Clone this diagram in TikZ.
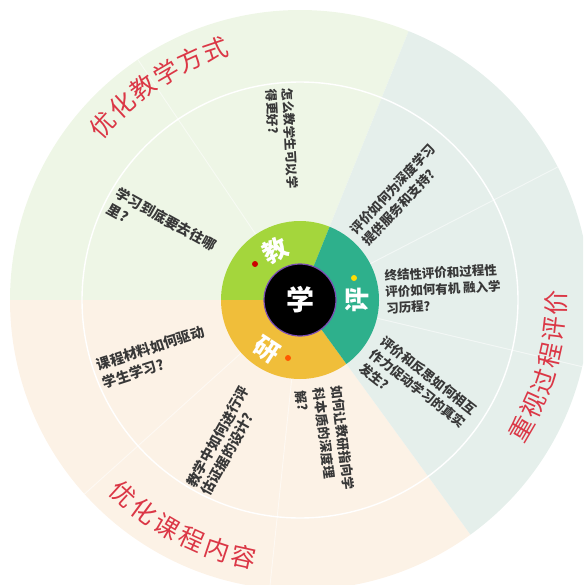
\documentclass[tikz,border=0pt]{standalone}
\usepackage{fontspec}
\newfontfamily\cjk{Noto Sans CJK SC}
\definecolor{secG}{HTML}{EEF6E6}
\definecolor{secB}{HTML}{E5EFEB}
\definecolor{secP}{HTML}{FCF2E6}
\definecolor{dG}{HTML}{A4D63C}
\definecolor{dT}{HTML}{2EB08C}
\definecolor{dY}{HTML}{F0BE3A}
\definecolor{ttl}{HTML}{DB3746}
\definecolor{qtx}{HTML}{383838}
\definecolor{rim}{HTML}{7B4DB5}
\begin{document}
\begin{tikzpicture}[x=1pt,y=1pt,
  qtext/.style n args={2}{font=\cjk\bfseries\fontsize{#1}{#2}\selectfont, text=qtx, align=left, inner sep=0pt},
  ttlchar/.style={font=\cjk\fontsize{25}{25}\selectfont, text=ttl, inner sep=0pt},
  donutchar/.style={font=\cjk\bfseries\fontsize{25}{25}\selectfont, text=white, inner sep=0pt},
  divider/.style={white, line width=0.9pt, opacity=0.55},
  dot/.style={circle, inner sep=0pt, minimum size=6pt}]
\begin{scope}[shift={(300,-300)}]
\useasboundingbox (-300,300) rectangle (283,-285);
\clip (-300,300) rectangle (283,-285);
% outer sectors
\fill[secG] (0,0) -- (68:290) arc[start angle=68,end angle=180,radius=290] -- cycle;
\fill[secP] (0,0) -- (180:290) arc[start angle=180,end angle=306,radius=290] -- cycle;
\fill[secB] (0,0) -- (306:290) arc[start angle=306,end angle=428,radius=290] -- cycle;
% white ring and dividers
\draw[white, line width=1.4pt] (0,0) circle[radius=218];
\foreach \a in {124,222,264,-13.3,27.3} \draw[divider] (\a:79) -- (\a:290);
% donut
\fill[dG] (0,0) -- (68:79) arc[start angle=68,end angle=180,radius=79] -- cycle;
\fill[dY] (0,0) -- (180:79) arc[start angle=180,end angle=306,radius=79] -- cycle;
\fill[dT] (0,0) -- (306:79) arc[start angle=306,end angle=428,radius=79] -- cycle;
\node[circle, fill=black, draw=rim, line width=1.2pt, minimum size=72pt, inner sep=0pt] (hub) at (0,0) {};
\node[font=\cjk\bfseries\fontsize{28}{28}\selectfont, text=white] (xue) at (0,0) {学};
\node[donutchar, rotate=27] (jiao) at (-25,50) {教};
\node[donutchar, rotate=90] (ping) at (57,0) {评};
\node[donutchar, rotate=-33] (yan) at (-33,-50) {研};
\node[dot, fill=red!80!black] (d1) at (-45,36) {};
\node[dot, fill=yellow!80!orange] (d2) at (54,22) {};
\node[dot, fill=orange!70!red] (d3) at (-12,-58) {};
% questions
\node[qtext={12.5}{16.5}, rotate=-87] (q1) at (-18,161) {怎么教学生可以学\\得更好?};
\node[qtext={14}{18}, rotate=-29] (q2) at (-138,73) {学习到底要去往哪\\里?};
\node[qtext={13}{17}, rotate=47] (q3) at (99,105) {评价如何为深度学习\\提供服务和支持?};
\node[qtext={12.5}{16.5}, rotate=3] (q4) at (143,11) {终结性评价和过程性\\评价如何有机 融入学\\习历程?};
\node[qtext={14}{19}, rotate=18] (q5) at (-146.5,-57) {课程材料如何驱动\\学生学习?};
\node[qtext={13}{17.5}, rotate=-38] (q6) at (118,-89) {评价和反思如何相互\\作力促动学习的真实\\发生?};
\node[qtext={14}{17}, rotate=61] (q7) at (-75,-141) {教学中如何进行评\\估证据的设计?};
\node[qtext={13}{18}, rotate=-83] (q8) at (25,-140) {如何让教研指向学\\科本质的深度理\\解?};
% curved titles
\foreach \c [count=\i from 0] in {优,化,教,学,方,式} {
  \pgfmathsetmacro\ang{138.3-5.94*\i}
  \pgfmathsetmacro\rot{\ang-90}
  \node[ttlchar, rotate=\rot] (ta\i) at (\ang:264) {\c};
}
\foreach \c [count=\i from 0] in {重,视,过,程,评,价} {
  \pgfmathsetmacro\ang{-30.3+5.92*\i}
  \pgfmathsetmacro\rot{\ang+90}
  \node[ttlchar, rotate=\rot] (tb\i) at (\ang:256) {\c};
}
\foreach \c [count=\i from 0] in {优,化,课,程,内,容} {
  \pgfmathsetmacro\ang{227.6+6*\i}
  \pgfmathsetmacro\rot{\ang+90}
  \node[ttlchar, rotate=\rot] (tc\i) at (\ang:263) {\c};
}
\end{scope}
\end{tikzpicture}
\end{document}
